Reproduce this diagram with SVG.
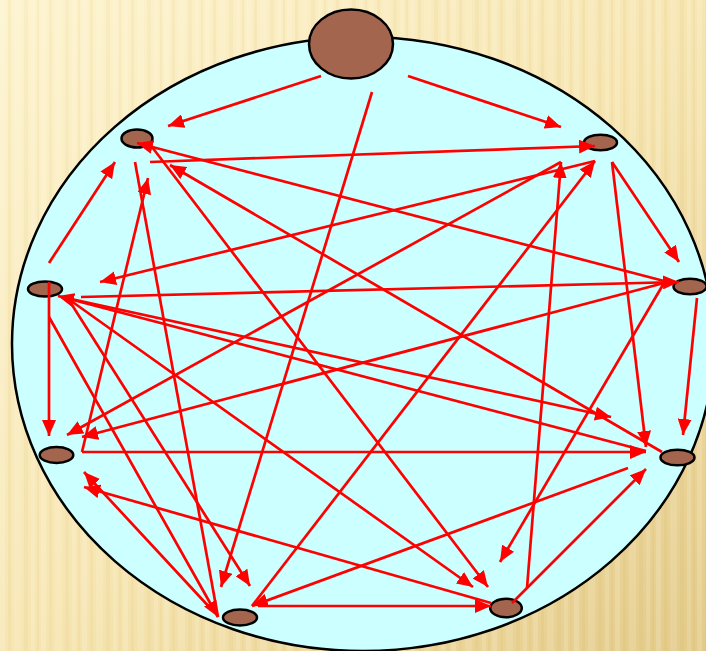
<svg xmlns="http://www.w3.org/2000/svg" width="706" height="651" viewBox="0 0 706 651">
<defs>
  <linearGradient id="bg" x1="0" y1="0" x2="1" y2="1">
    <stop offset="0" stop-color="#FDF3CD"/>
    <stop offset="0.5" stop-color="#F7E6B2"/>
    <stop offset="1" stop-color="#E3CA88"/>
  </linearGradient>
  <pattern id="stripes" width="41" height="651" patternUnits="userSpaceOnUse">
    <rect x="0" y="0" width="5" height="651" fill="#FFFFFF" opacity="0.16"/>
    <rect x="8" y="0" width="3" height="651" fill="#B08A3A" opacity="0.06"/>
    <rect x="14" y="0" width="7" height="651" fill="#FFFFFF" opacity="0.12"/>
    <rect x="24" y="0" width="4" height="651" fill="#B08A3A" opacity="0.05"/>
    <rect x="31" y="0" width="4" height="651" fill="#FFFFFF" opacity="0.14"/>
    <rect x="37" y="0" width="2" height="651" fill="#B08A3A" opacity="0.06"/>
  </pattern>
  <marker id="ah" markerWidth="16" markerHeight="14" refX="16" refY="7" orient="auto" markerUnits="userSpaceOnUse">
    <path d="M0,0 L16,7 L0,14 z" fill="#FF0000"/>
  </marker>
</defs>
<style>
  .node{fill:#A4654F;stroke:#000000;stroke-width:2.5}
  .edge{stroke:#FF0000;stroke-width:2.7;fill:none;marker-end:url(#ah)}
  .plain{stroke:#FF0000;stroke-width:2.7;fill:none}
</style>
<rect x="0" y="0" width="706" height="651" fill="url(#bg)"/>
<rect x="0" y="0" width="706" height="651" fill="url(#stripes)"/>
<ellipse id="ring" cx="363" cy="344" rx="351" ry="307" fill="#CCFFFF" stroke="#000000" stroke-width="2.5"/>

<g id="node-top"><ellipse class="node" cx="351" cy="44" rx="42" ry="34.5"/></g>
<g id="node-ul"><ellipse class="node" cx="137" cy="138.5" rx="15.5" ry="9"/></g>
<g id="node-ur"><ellipse class="node" cx="600.5" cy="142.5" rx="16.5" ry="7.8"/></g>
<g id="node-l"><ellipse class="node" cx="45" cy="289" rx="17" ry="7.6"/></g>
<g id="node-r"><ellipse class="node" cx="690" cy="286.5" rx="16.5" ry="7.8"/></g>
<g id="node-ll"><ellipse class="node" cx="56.5" cy="455" rx="16.8" ry="8"/></g>
<g id="node-rl"><ellipse class="node" cx="677.5" cy="457.5" rx="17" ry="7.8"/></g>
<g id="node-bl"><ellipse class="node" cx="240" cy="617.5" rx="17" ry="8"/></g>
<g id="node-br"><ellipse class="node" cx="506" cy="608" rx="15.8" ry="9.2"/></g>

<g id="connectors">
  <line class="edge" x1="321" y1="76" x2="168" y2="126"/>
  <line class="edge" x1="408" y1="76" x2="561" y2="127"/>
  <line class="edge" x1="372" y1="92" x2="221" y2="587"/>
  <line class="edge" x1="150" y1="162" x2="595" y2="146"/>
  <line class="edge" x1="664" y1="281" x2="137" y2="143"/>
  <line class="edge" x1="662" y1="452" x2="170" y2="165"/>
  <line class="plain" x1="135" y1="162" x2="218" y2="617"/>
  <line class="edge" x1="82" y1="452" x2="148" y2="178"/>
  <line class="edge" x1="49" y1="263" x2="115" y2="162"/>
  <line class="edge" x1="49" y1="282" x2="49" y2="436"/>
  <line class="edge" x1="82" y1="452" x2="646" y2="452"/>
  <line class="edge" x1="595" y1="161" x2="100" y2="282"/>
  <line class="edge" x1="561" y1="162" x2="67" y2="435"/>
  <line class="edge" x1="252" y1="606" x2="595" y2="161"/>
  <line class="edge" x1="628" y1="468" x2="252" y2="606"/>
  <line class="edge" x1="258" y1="606" x2="491" y2="606"/>
  <line class="edge" x1="512" y1="603" x2="646" y2="469"/>
  <line class="edge" x1="527" y1="588" x2="561" y2="162"/>
  <line class="edge" x1="67" y1="298" x2="473" y2="587"/>
  <line class="edge" x1="152" y1="147" x2="488" y2="587"/>
  <line class="edge" x1="664" y1="283" x2="500" y2="562"/>
  <line class="edge" x1="612" y1="162" x2="646" y2="447"/>
  <line class="edge" x1="697" y1="298" x2="683" y2="435"/>
  <line class="edge" x1="612" y1="162" x2="679" y2="262"/>
  <line class="edge" x1="81" y1="297" x2="679" y2="282"/>
  <line class="edge" x1="664" y1="283" x2="82" y2="437"/>
  <line class="edge" x1="212" y1="610" x2="84" y2="472"/>
  <line class="edge" x1="491" y1="603" x2="84" y2="487"/>
  <line class="edge" x1="49" y1="317" x2="218" y2="617"/>
  <line class="edge" x1="67" y1="297" x2="250" y2="586"/>
  <line class="edge" x1="62" y1="297" x2="611" y2="417"/>
  <line class="edge" x1="646" y1="451" x2="58" y2="296"/>
</g>
</svg>
